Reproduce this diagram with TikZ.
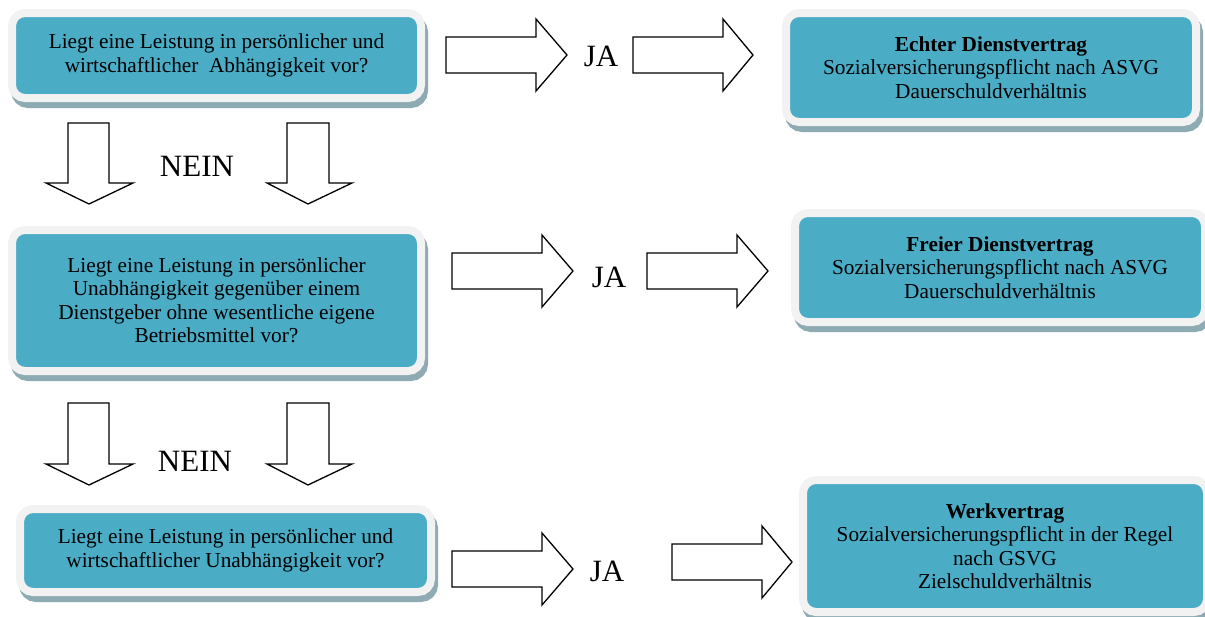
\documentclass[tikz,border=0pt]{standalone}
\usepackage{fontspec}
\setmainfont{Liberation Serif}
\usepackage{tikz}
\usepackage{xcolor}

\definecolor{boxteal}{HTML}{4BACC6}
\definecolor{boxrim}{HTML}{F2F2F2}
\definecolor{boxshade}{HTML}{8EAAB2}

\tikzset{
    qbox/.style={rectangle, rounded corners=13pt, fill=boxteal, draw=boxrim,
        line width=8pt, align=center, inner sep=0pt,
        font=\fontsize{21.3}{23.5}\selectfont,
        preaction={draw=boxshade, fill=boxshade, line width=8pt,
            transform canvas={shift={(3pt,-6pt)}}}},
    blockarrow/.style={draw=black, fill=white, line width=1.3pt, line join=miter},
    answer/.style={anchor=base, inner sep=0pt, font=\fontsize{31}{34}\selectfont}
}

\begin{document}
\begin{tikzpicture}[x=1pt, y=-1pt]
    \useasboundingbox (0,0) rectangle (1205,616);

    % Questions
    \node[qbox, minimum width=409pt, minimum height=85pt] (frage1) at (216.5,55.5)
        {Liegt eine Leistung in persönlicher und\\wirtschaftlicher\ \ Abhängigkeit vor?};
    \node[qbox, minimum width=409pt, minimum height=141pt] (frage2) at (216.5,300.5)
        {Liegt eine Leistung in persönlicher\\Unabhängigkeit gegenüber einem\\Dienstgeber ohne wesentliche eigene\\Betriebsmittel vor?};
    \node[qbox, minimum width=411pt, minimum height=83pt] (frage3) at (225.5,550.5)
        {Liegt eine Leistung in persönlicher und\\wirtschaftlicher Unabhängigkeit vor?};

    % Results
    \node[qbox, minimum width=410pt, minimum height=109pt] (echter) at (991,67.5)
        {\textbf{Echter Dienstvertrag}\\Sozialversicherungspflicht nach ASVG\\Dauerschuldverhältnis};
    \node[qbox, minimum width=410pt, minimum height=109pt] (freier) at (1000,267.5)
        {\textbf{Freier Dienstvertrag}\\Sozialversicherungspflicht nach ASVG\\Dauerschuldverhältnis};
    \node[qbox, minimum width=404pt, minimum height=132pt] (werk) at (1005,546)
        {\textbf{Werkvertrag}\\Sozialversicherungspflicht in der Regel\\nach GSVG\\Zielschuldverhältnis};

    % JA arrows
    \draw[blockarrow] (446,37) -- (536,37) -- (536,19) -- (567,55) -- (536,91) -- (536,73) -- (446,73) -- cycle;
    \draw[blockarrow] (633,37) -- (723,37) -- (723,19) -- (753,55) -- (723,91) -- (723,73) -- (633,73) -- cycle;
    \draw[blockarrow] (452,253) -- (542,253) -- (542,235) -- (573,271) -- (542,307) -- (542,289) -- (452,289) -- cycle;
    \draw[blockarrow] (647,253) -- (737,253) -- (737,235) -- (768,271) -- (737,307) -- (737,289) -- (647,289) -- cycle;
    \draw[blockarrow] (452,551) -- (542,551) -- (542,533) -- (573,569) -- (542,605) -- (542,587) -- (452,587) -- cycle;
    \draw[blockarrow] (672,544) -- (762,544) -- (762,526) -- (792,562) -- (762,598) -- (762,580) -- (672,580) -- cycle;

    % NEIN arrows
    \draw[blockarrow] (68,123) -- (109,123) -- (109,183) -- (133,183) -- (89,204) -- (46,183) -- (68,183) -- cycle;
    \draw[blockarrow] (287,123) -- (329,123) -- (329,183) -- (352,183) -- (308,204) -- (267,183) -- (287,183) -- cycle;
    \draw[blockarrow] (68,403) -- (109,403) -- (109,464) -- (133,464) -- (89,485) -- (46,464) -- (68,464) -- cycle;
    \draw[blockarrow] (287,403) -- (329,403) -- (329,464) -- (352,464) -- (308,485) -- (267,464) -- (287,464) -- cycle;

    % Labels
    \node[answer] (ja1) at (601,66) {JA};
    \node[answer] (ja2) at (609,287) {JA};
    \node[answer] (ja3) at (607,581) {JA};
    \node[answer] (nein1) at (197,176) {NEIN};
    \node[answer] (nein2) at (195,471) {NEIN};
\end{tikzpicture}
\end{document}
